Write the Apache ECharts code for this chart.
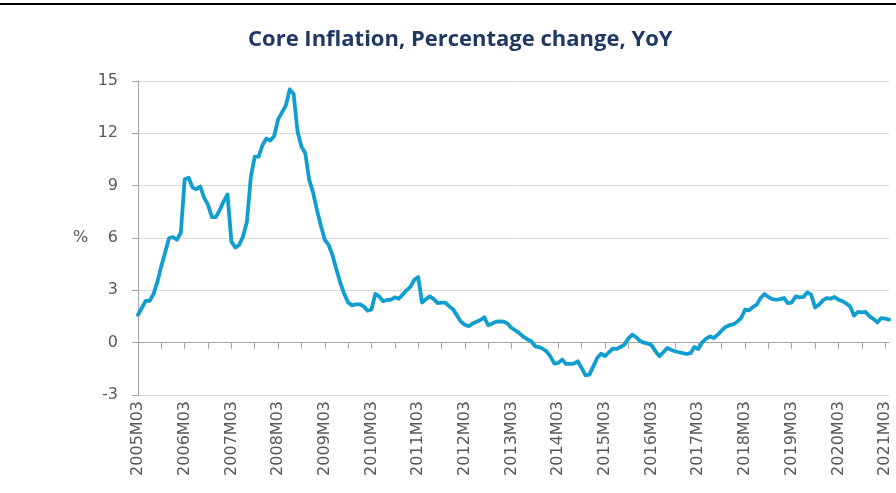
<!DOCTYPE html>
<html>
<head>
<meta charset="utf-8">
<script src="https://cdn.jsdelivr.net/npm/echarts@6.0.0/dist/echarts.min.js"></script>
<style>
	html, body { margin: 0; padding: 0; background: #fff; }
	#main { width: 896px; height: 493px; }
</style>
</head>
<body>
<div id="main"></div>
<script>
// monthly core inflation, % yoy, 2005M03 .. 2021M04 (rows start at March)
const coreInflation = [
	1.6, 2.0, 2.4, 2.4, 2.8, 3.5, 4.4, 5.2, 6.0, 6.05, 5.9, 6.3,
	9.37, 9.46, 8.9, 8.8, 8.95, 8.3, 7.9, 7.2, 7.2, 7.6, 8.1, 8.5,
	5.8, 5.45, 5.6, 6.1, 6.95, 9.5, 10.66, 10.66, 11.33, 11.7, 11.58, 11.85,
	12.8, 13.2, 13.6, 14.52, 14.25, 12.1, 11.24, 10.86, 9.33, 8.6, 7.6, 6.7,
	5.9, 5.6, 5.0, 4.2, 3.42, 2.8, 2.3, 2.14, 2.2, 2.2, 2.08, 1.83,
	1.9, 2.8, 2.65, 2.37, 2.45, 2.46, 2.6, 2.52, 2.75, 3.0, 3.2, 3.6,
	3.76, 2.3, 2.5, 2.65, 2.5, 2.27, 2.3, 2.3, 2.08, 1.9, 1.55, 1.2,
	1.03, 0.94, 1.1, 1.2, 1.3, 1.45, 1.0, 1.09, 1.2, 1.22, 1.2, 1.09,
	0.84, 0.7, 0.55, 0.35, 0.2, 0.1, -0.2, -0.25, -0.35, -0.5, -0.8, -1.2,
	-1.16, -0.97, -1.22, -1.22, -1.2, -1.07, -1.45, -1.87, -1.83, -1.36, -0.88, -0.63,
	-0.78, -0.55, -0.34, -0.36, -0.25, -0.11, 0.23, 0.46, 0.32, 0.1, 0.0, -0.05,
	-0.15, -0.5, -0.78, -0.55, -0.3, -0.4, -0.5, -0.55, -0.6, -0.65, -0.6, -0.25,
	-0.36, 0.02, 0.23, 0.36, 0.27, 0.46, 0.7, 0.9, 1.0, 1.05, 1.2, 1.41,
	1.89, 1.85, 2.04, 2.18, 2.56, 2.79, 2.62, 2.5, 2.46, 2.5, 2.56, 2.27,
	2.3, 2.65, 2.6, 2.62, 2.88, 2.75, 2.02, 2.18, 2.42, 2.56, 2.52, 2.62,
	2.46, 2.38, 2.25, 2.08, 1.55, 1.76, 1.74, 1.76, 1.51, 1.37, 1.16, 1.41,
	1.38, 1.32,
];

const startYear = 2005;
const startMonth = 3;
const months = coreInflation.map((_, i) => {
	const m = startMonth - 1 + i;
	const y = startYear + Math.floor(m / 12);
	const mm = (m % 12) + 1;
	return y + "M" + (mm < 10 ? "0" + mm : mm);
});

const yTicks = { min: -3, max: 15, step: 3 };
const titleText = "Core Inflation, Percentage change, YoY";
const unitText = "%";

const chart = echarts.init(document.getElementById("main"), null, { renderer: "canvas" });

const greyText = "#595959";
const axisGrey = "#a6a6a6";

const option = {
	animation: false,
	backgroundColor: "#ffffff",
	title: {
		text: titleText,
		left: 243,
		top: 24,
		textStyle: {
			fontFamily: "Open Sans",
			fontWeight: "bold",
			fontSize: 22,
			color: "#1F3864",
		},
	},
	graphic: [
		{
			type: "line",
			shape: { x1: 0, y1: 4, x2: 896, y2: 4 },
			style: { stroke: "#000", lineWidth: 2 },
		},
		{
			type: "text",
			left: 73,
			top: 230,
			style: {
				text: unitText,
				font: "16px 'DejaVu Sans'",
				fill: greyText,
			},
		},
	],
	grid: {
		left: 138,
		right: 7,
		top: 81,
		bottom: 98,
		outerBoundsMode: "none",
	},
	xAxis: [
		{
			type: "category",
			data: months,
			boundaryGap: false,
			position: "bottom",
			axisLine: { show: false, onZero: false },
			axisTick: { show: false },
			splitLine: { show: false },
			axisLabel: {
				interval: 11,
				rotate: 90,
				margin: 6,
				fontFamily: "DejaVu Sans",
				fontSize: 16,
				color: greyText,
			},
		},
		{
			type: "category",
			data: months,
			boundaryGap: false,
			position: "bottom",
			axisLine: {
				show: true,
				onZero: true,
				lineStyle: { color: axisGrey, width: 1 },
			},
			axisTick: {
				show: true,
				interval: 5,
				length: 6,
				lineStyle: { color: axisGrey },
			},
			axisLabel: { show: false },
			splitLine: { show: false },
		},
	],
	yAxis: {
		type: "value",
		min: yTicks.min,
		max: yTicks.max,
		interval: yTicks.step,
		axisLine: { show: true, lineStyle: { color: axisGrey } },
		axisTick: { show: true, length: 6, lineStyle: { color: axisGrey } },
		axisLabel: {
			margin: 20,
			fontFamily: "DejaVu Sans",
			fontSize: 16,
			color: greyText,
		},
		splitLine: { show: true, lineStyle: { color: "#d9d9d9", width: 1 } },
	},
	series: [
		{
			name: "Core inflation",
			type: "line",
			xAxisIndex: 0,
			data: coreInflation,
			showSymbol: false,
			symbol: "none",
			lineStyle: { color: "#109ED0", width: 3.8, join: "round", cap: "round" },
		},
	],
};

chart.setOption(option);
</script>
</body>
</html>
